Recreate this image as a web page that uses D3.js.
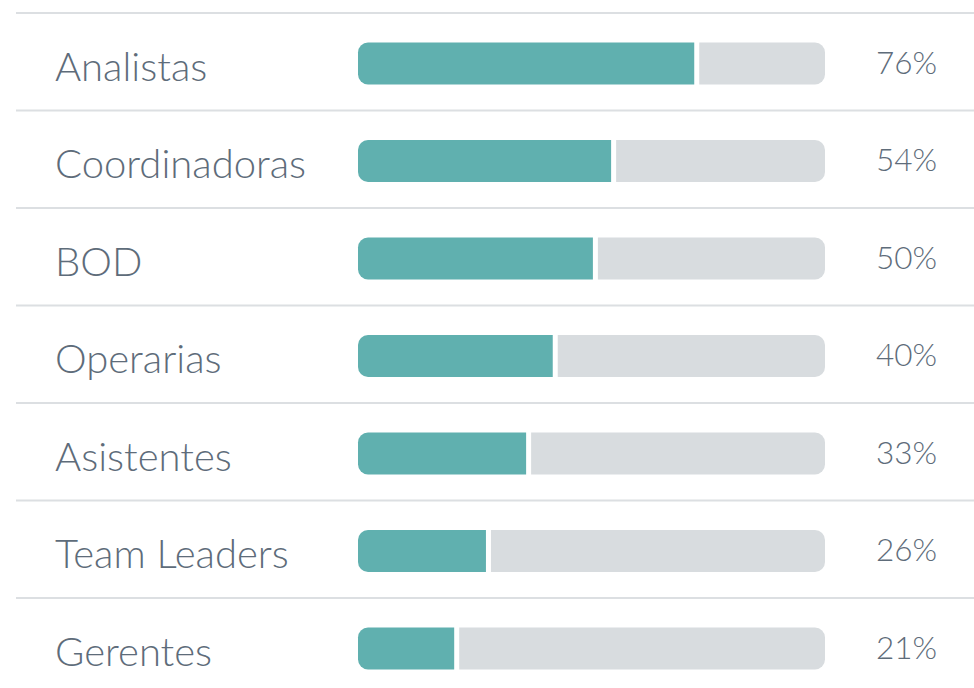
<!DOCTYPE html>
<html>
<head>
<meta charset="utf-8">
<script src="https://cdn.jsdelivr.net/npm/d3@7"></script>
<style>
  html, body { margin: 0; padding: 0; background: #fff; }
  svg { display: block; }
</style>
</head>
<body>
<div id="chart"></div>
<script>
const width = 974,
  height = 688;

// data
const categories = ["Analistas", "Coordinadoras", "BOD", "Operarias", "Asistentes", "Team Leaders", "Gerentes"];
// bar lengths as drawn (percent of the track)
const barValues = [72, 54.2, 50.3, 41.7, 36, 27.4, 20.6];
// labels printed on the right
const pctLabels = ["76%", "54%", "50%", "40%", "33%", "26%", "21%"];

const teal = "#60b0af",
  track = "#d8dcdf",
  textColor = "#5e6c7a",
  rule = "#dcdfe2";

const rowTop = 13, rowH = 97.5;
const barH = 42, barOffset = 29.5, gap = 5, r = 10;

const x = d3.scaleLinear().domain([0, 100]).range([358, 825]);
const y = d3.scaleBand().domain(categories).range([rowTop, rowTop + rowH * categories.length]).padding(0);

const svg = d3.select("#chart").append("svg")
  .attr("width", width)
  .attr("height", height);

const rows = svg.selectAll(".row")
  .data(categories.map((c, i) => ({ cat: c, v: barValues[i], lab: pctLabels[i] })))
  .join("g")
  .attr("class", "row")
  .attr("transform", d => `translate(0,${y(d.cat)})`);

// separator line at the top of each row
rows.append("rect")
  .attr("x", 16)
  .attr("y", -1)
  .attr("width", width - 16)
  .attr("height", 2)
  .attr("fill", rule);

// left part, rounded on the left only
function leftRound(x0, x1, h, rr) {
  const p = d3.path();
  p.moveTo(x0 + rr, 0);
  p.lineTo(x1, 0);
  p.lineTo(x1, h);
  p.lineTo(x0 + rr, h);
  p.arcTo(x0, h, x0, h - rr, rr);
  p.lineTo(x0, rr);
  p.arcTo(x0, 0, x0 + rr, 0, rr);
  p.closePath();
  return p.toString();
}
// right part, rounded on the right only
function rightRound(x0, x1, h, rr) {
  const p = d3.path();
  p.moveTo(x0, 0);
  p.lineTo(x1 - rr, 0);
  p.arcTo(x1, 0, x1, rr, rr);
  p.lineTo(x1, h - rr);
  p.arcTo(x1, h, x1 - rr, h, rr);
  p.lineTo(x0, h);
  p.closePath();
  return p.toString();
}

const bars = rows.append("g").attr("transform", `translate(0,${barOffset})`);

bars.append("path")
  .attr("d", d => rightRound(x(d.v) + gap, x(100), barH, r))
  .attr("fill", track);

bars.append("path")
  .attr("d", d => leftRound(x(0), x(d.v), barH, r))
  .attr("fill", teal);

rows.append("text")
  .attr("x", 55)
  .attr("y", 67.5)
  .attr("font-family", "Lato, sans-serif")
  .attr("font-weight", 300)
  .attr("font-size", 40)
  .attr("fill", textColor)
  .text(d => d.cat);

rows.append("text")
  .attr("x", 937)
  .attr("y", 60.5)
  .attr("text-anchor", "end")
  .attr("font-family", "Lato, sans-serif")
  .attr("font-weight", 300)
  .attr("font-size", 31.5)
  .attr("fill", textColor)
  .text(d => d.lab);
</script>
</body>
</html>
